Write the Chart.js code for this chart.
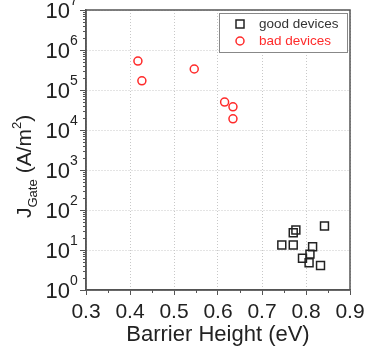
<!DOCTYPE html>
<html>
<head>
<meta charset="utf-8">
<script src="https://cdn.jsdelivr.net/npm/chart.js@4/dist/chart.umd.min.js"></script>
<style>
  html, body { margin: 0; padding: 0; background: #fff; }
  canvas { display: block; }
</style>
</head>
<body>
<canvas id="plot" width="366" height="352"></canvas>
<script>
// good devices (squares)
const goodX = [0.745, 0.771, 0.771, 0.777, 0.842, 0.815, 0.809, 0.792, 0.807, 0.833];
const goodY = [13.3, 13.3, 27, 31.6, 39.8, 12.1, 7.9, 6.2, 4.8, 4.1];
// bad devices (circles)
const badX = [0.418, 0.427, 0.546, 0.615, 0.634, 0.634];
const badY = [5.3e5, 1.7e5, 3.35e5, 5.0e4, 3.8e4, 1.9e4];

const xTicks = [0.3, 0.4, 0.5, 0.6, 0.7, 0.8, 0.9];
const xMinor = [0.35, 0.45, 0.55, 0.65, 0.75, 0.85];
const yExps = [0, 1, 2, 3, 4, 5, 6, 7];
const seriesNames = ['good devices', 'bad devices'];

const FONT = '"Liberation Sans", Arial, sans-serif';
const AXIS = '#555';
const RED = '#ff2a2a';

function pts(xs, ys) {
  return xs.map((x, i) => ({ x: x, y: ys[i] }));
}

// box, minor ticks, y labels, titles, legend
const decor = {
  id: 'decor',
  beforeDatasetsDraw(chart) {
    const { ctx, chartArea: a } = chart;
    ctx.save();
    ctx.strokeStyle = AXIS;
    ctx.lineWidth = 1.5;
    ctx.strokeRect(a.left, a.top, a.right - a.left, a.bottom - a.top);
    ctx.restore();
  },
  afterDraw(chart) {
    const { ctx, chartArea: a } = chart;
    const xs = chart.scales.x, ys = chart.scales.y;
    ctx.save();

    // minor ticks
    ctx.strokeStyle = AXIS;
    ctx.lineWidth = 1;
    ctx.beginPath();
    xMinor.forEach(v => {
      const px = Math.round(xs.getPixelForValue(v)) + 0.5;
      ctx.moveTo(px, a.bottom);
      ctx.lineTo(px, a.bottom + 3);
    });
    for (let e = 0; e < 7; e++) {
      for (let m = 2; m <= 9; m++) {
        const py = Math.round(ys.getPixelForValue(m * Math.pow(10, e))) + 0.5;
        ctx.moveTo(a.left - 3, py);
        ctx.lineTo(a.left, py);
      }
    }
    ctx.stroke();

    // y tick labels 10^n
    ctx.fillStyle = '#222';
    yExps.forEach(e => {
      const py = ys.getPixelForValue(Math.pow(10, e));
      ctx.font = '22px ' + FONT;
      ctx.textAlign = 'right';
      ctx.textBaseline = 'middle';
      ctx.fillText('10', 70, py + 2);
      ctx.font = '14px ' + FONT;
      ctx.textAlign = 'left';
      ctx.fillText(String(e), 70, py - 9);
    });

    // x title
    ctx.font = '22px ' + FONT;
    ctx.textAlign = 'center';
    ctx.textBaseline = 'alphabetic';
    ctx.fillText('Barrier Height (eV)', (a.left + a.right) / 2, 341);

    // y title, rotated: J_Gate (A/m^2)
    ctx.translate(31, 218);
    ctx.rotate(-Math.PI / 2);
    ctx.textAlign = 'left';
    let cx = 0;
    ctx.font = '21px ' + FONT;
    ctx.fillText('J', cx, 0);
    cx += ctx.measureText('J').width;
    ctx.font = '13px ' + FONT;
    ctx.fillText('Gate', cx, 6);
    cx += ctx.measureText('Gate').width + 6;
    ctx.font = '21px ' + FONT;
    ctx.fillText('(A/m', cx, 0);
    cx += ctx.measureText('(A/m').width;
    ctx.font = '13px ' + FONT;
    ctx.fillText('2', cx, -10);
    cx += ctx.measureText('2').width;
    ctx.font = '21px ' + FONT;
    ctx.fillText(')', cx, 0);
    ctx.setTransform(1, 0, 0, 1, 0, 0);

    // legend
    const lx = 219, ly = 13, lw = 128, lh = 39;
    ctx.fillStyle = '#fff';
    ctx.fillRect(lx, ly, lw, lh);
    ctx.strokeStyle = '#888';
    ctx.lineWidth = 1;
    ctx.strokeRect(lx + 0.5, ly + 0.5, lw, lh);
    ctx.lineWidth = 1.5;
    ctx.strokeStyle = '#222';
    ctx.strokeRect(236, 20, 8, 8);
    ctx.strokeStyle = RED;
    ctx.beginPath();
    ctx.arc(240, 41, 4, 0, Math.PI * 2);
    ctx.stroke();
    ctx.font = '13.5px ' + FONT;
    ctx.textBaseline = 'middle';
    ctx.fillStyle = '#333';
    ctx.fillText(seriesNames[0], 259, 24);
    ctx.fillStyle = RED;
    ctx.fillText(seriesNames[1], 259, 41);

    ctx.restore();
  }
};

const config = {
  type: 'scatter',
  data: {
    datasets: [
      {
        label: seriesNames[0],
        data: pts(goodX, goodY),
        pointStyle: 'rect',
        pointRadius: 5.6,
        pointBorderWidth: 1.5,
        borderColor: '#222',
        backgroundColor: 'rgba(0,0,0,0)'
      },
      {
        label: seriesNames[1],
        data: pts(badX, badY),
        pointStyle: 'circle',
        pointRadius: 4,
        pointBorderWidth: 1.5,
        borderColor: RED,
        backgroundColor: 'rgba(0,0,0,0)'
      }
    ]
  },
  options: {
    responsive: false,
    devicePixelRatio: 1,
    animation: false,
    layout: { padding: { top: 10, right: 16, left: 0, bottom: 0 } },
    plugins: { legend: { display: false }, tooltip: { enabled: false } },
    scales: {
      x: {
        type: 'linear',
        min: 0.3,
        max: 0.9,
        afterBuildTicks: s => { s.ticks = xTicks.map(v => ({ value: v })); },
        afterFit: s => {
          s.height = 62;
          s.paddingLeft = 0;
          s.paddingRight = 0;
        },
        grid: {
          color: '#c8c8c8',
          lineWidth: 1,
          tickLength: 5,
          tickColor: AXIS,
          tickWidth: 1,
          tickBorderDash: []
        },
        border: { display: true, color: AXIS, width: 1.5, dash: [1, 2] },
        ticks: {
          padding: 5,
          color: '#222',
          font: { family: FONT, size: 21 },
          maxRotation: 0,
          callback: v => v.toFixed(1)
        }
      },
      y: {
        type: 'logarithmic',
        min: 1,
        max: 1e7,
        afterBuildTicks: s => { s.ticks = yExps.map(e => ({ value: Math.pow(10, e) })); },
        afterFit: s => {
          s.width = 86;
          s.paddingTop = 0;
          s.paddingBottom = 0;
        },
        grid: {
          color: '#c8c8c8',
          lineWidth: 1,
          tickLength: 6,
          tickColor: AXIS,
          tickWidth: 1,
          tickBorderDash: []
        },
        border: { display: true, color: AXIS, width: 1.5, dash: [1, 2] },
        ticks: { display: false }
      }
    }
  },
  plugins: [decor]
};

new Chart(document.getElementById('plot'), config);
</script>
</body>
</html>
